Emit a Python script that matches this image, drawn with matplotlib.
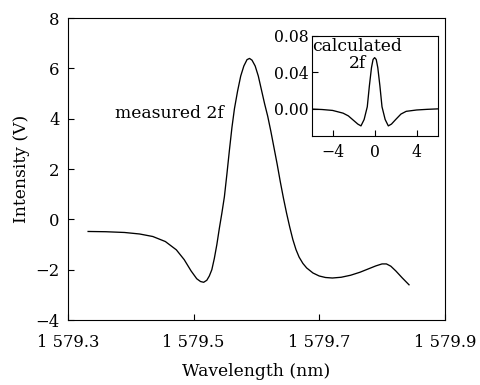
import numpy as np
import matplotlib
matplotlib.use('Agg')
import matplotlib.pyplot as plt
from matplotlib.ticker import FuncFormatter

plt.rcParams['font.family'] = ['DejaVu Serif']
plt.rcParams['font.size'] = 12.3

# measured 2f signal
wavelength = [1579.332, 1579.36, 1579.39, 1579.414, 1579.435, 1579.455, 1579.4725,
              1579.485, 1579.496, 1579.505, 1579.511, 1579.516, 1579.521, 1579.525,
              1579.529, 1579.533, 1579.537, 1579.541, 1579.545, 1579.549, 1579.553,
              1579.557, 1579.561, 1579.565, 1579.570, 1579.575, 1579.580, 1579.585,
              1579.589, 1579.593, 1579.598, 1579.603, 1579.608, 1579.613, 1579.618,
              1579.623, 1579.628, 1579.633, 1579.638, 1579.643, 1579.648, 1579.653,
              1579.658, 1579.663, 1579.668, 1579.674, 1579.680, 1579.690, 1579.700,
              1579.710, 1579.721, 1579.735, 1579.750, 1579.765, 1579.779, 1579.790,
              1579.800, 1579.807, 1579.814, 1579.822, 1579.832, 1579.843]
intensity = [-0.48, -0.49, -0.52, -0.58, -0.68, -0.88, -1.21,
             -1.6, -2.05, -2.36, -2.47, -2.50, -2.42, -2.25,
             -2.0, -1.55, -1.0, -0.35, 0.25, 0.9, 1.8,
             2.75, 3.65, 4.4, 5.1, 5.7, 6.1, 6.35,
             6.40, 6.33, 6.1, 5.7, 5.15, 4.6, 4.1,
             3.5, 2.85, 2.2, 1.5, 0.85, 0.25, -0.3,
             -0.8, -1.2, -1.5, -1.75, -1.93, -2.13, -2.25,
             -2.31, -2.33, -2.3, -2.22, -2.1, -1.96, -1.85,
             -1.77, -1.77, -1.86, -2.05, -2.32, -2.6]

# calculated 2f signal (inset)
calc_x = [-6, -5, -4, -3, -2.5, -2, -1.6, -1.3, -1.0, -0.7, -0.5, -0.3, -0.15, 0,
          0.15, 0.3, 0.5, 0.7, 1.0, 1.3, 1.6, 2, 2.5, 3, 4, 5, 6]
calc_y = [-0.0005, -0.001, -0.002, -0.005, -0.008, -0.013, -0.017, -0.019, -0.012,
          0.002, 0.025, 0.045, 0.054, 0.056,
          0.054, 0.045, 0.025, 0.002, -0.012, -0.019, -0.017, -0.012, -0.006,
          -0.003, -0.0015, -0.0008, -0.0003]

main_ticks = [1579.3, 1579.5, 1579.7, 1579.9]
inset_xticks = [-4, 0, 4]
inset_yticks = [0.0, 0.04, 0.08]

fig = plt.figure(figsize=(4.8, 3.85), dpi=100)
ax = fig.add_axes([0.1417, 0.1688, 0.785, 0.784])
ax.plot(wavelength, intensity, color='black', lw=0.95)
ax.set_xlim(1579.3, 1579.9)
ax.set_ylim(-4, 8)
ax.set_xticks(main_ticks)
ax.xaxis.set_major_formatter(FuncFormatter(lambda v, p: '1 %.1f' % (v - 1000)))
ax.set_yticks([-4, -2, 0, 2, 4, 6, 8])
ax.tick_params(direction='in', length=4, width=0.8, labelsize=11.8)
ax.tick_params(axis='x', pad=10)
ax.tick_params(axis='y', pad=6)
ax.set_xlabel('Wavelength (nm)', labelpad=9)
ax.set_ylabel('Intensity (V)')
ax.text(1579.375, 4.23, 'measured 2f', va='center', ha='left')

ins = fig.add_axes([0.649, 0.647, 0.263, 0.26])
ins.plot(calc_x, calc_y, color='black', lw=0.95)
ins.set_xlim(-6, 6)
ins.set_ylim(-0.03, 0.08)
ins.set_xticks(inset_xticks)
ins.set_yticks(inset_yticks)
ins.yaxis.set_major_formatter(FuncFormatter(lambda v, p: '%.2f' % v))
ins.tick_params(direction='in', length=4, width=0.8, pad=2, labelsize=11.3)
ins.tick_params(axis='x', pad=6)
ins.text(-5.9, 0.068, 'calculated', va='center', ha='left')
ins.text(-1.6, 0.050, '2f', va='center', ha='center')

plt.savefig('out.png')
